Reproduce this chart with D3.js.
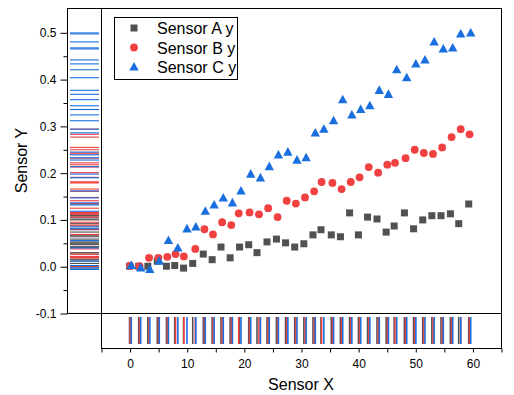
<!DOCTYPE html>
<html><head><meta charset="utf-8">
<script src="https://cdn.jsdelivr.net/npm/d3@7"></script>
<style>body{margin:0;background:#fff}svg{display:block;font-family:"Liberation Sans",Arial,sans-serif}</style>
</head><body><svg id="c" width="514" height="395"></svg>
<script>
// ---- data ----
const seriesNames = ["Sensor A y", "Sensor B y", "Sensor C y"];
const xA = [0, 1.6, 3.2, 4.85, 6.45, 7.9, 9.45, 11.05, 12.9, 14.45, 16.0, 17.6, 19.25, 20.85, 22.3, 24.05, 25.7, 27.3, 28.9, 30.5, 32.1, 33.5, 35.3, 36.9, 38.5, 40.05, 41.65, 43.3, 44.9, 46.3, 48.1, 49.7, 51.3, 52.9, 54.5, 56.15, 57.6, 59.35];
const yA = [0.0, 0.0, 0.0, 0.011, 0.0, 0.0015, -0.004, 0.006, 0.026, 0.014, 0.041, 0.018, 0.041, 0.046, 0.029, 0.052, 0.058, 0.050, 0.041, 0.048, 0.067, 0.078, 0.067, 0.063, 0.114, 0.067, 0.105, 0.101, 0.073, 0.086, 0.114, 0.080, 0.099, 0.108, 0.108, 0.112, 0.091, 0.133];
const xB = [0.1, 1.75, 3.4, 5.05, 6.6, 8.05, 9.5, 11.5, 13.1, 14.6, 16.2, 17.8, 19.1, 21.0, 22.65, 24.25, 25.9, 27.5, 29.1, 30.7, 32.3, 33.6, 35.5, 37.1, 38.7, 40.25, 41.85, 43.5, 45.1, 46.45, 48.3, 49.9, 51.5, 53.1, 54.7, 56.35, 57.95, 59.5];
const yB = [0.001, 0.0, 0.018, 0.018, 0.020, 0.026, 0.021, 0.037, 0.079, 0.068, 0.094, 0.088, 0.113, 0.115, 0.111, 0.124, 0.105, 0.140, 0.134, 0.147, 0.160, 0.180, 0.178, 0.165, 0.180, 0.190, 0.212, 0.200, 0.217, 0.221, 0.231, 0.249, 0.242, 0.240, 0.254, 0.276, 0.293, 0.282];
const xC = [0.3, 1.95, 3.55, 5.2, 6.8, 8.45, 10.05, 11.6, 13.25, 14.8, 16.4, 18.0, 19.5, 21.2, 22.9, 24.45, 26.05, 27.7, 29.3, 30.9, 32.5, 34.0, 35.7, 37.3, 38.9, 40.45, 42.05, 43.7, 45.3, 46.75, 48.5, 50.1, 51.7, 53.3, 54.9, 56.55, 57.95, 59.7];
const yC = [0.0015, -0.0035, -0.007, 0.011, 0.055, 0.039, 0.080, 0.084, 0.1175, 0.131, 0.146, 0.1355, 0.161, 0.197, 0.189, 0.213, 0.238, 0.244, 0.227, 0.232, 0.285, 0.293, 0.311, 0.356, 0.3235, 0.335, 0.343, 0.376, 0.3675, 0.420, 0.403, 0.4325, 0.441, 0.4795, 0.4645, 0.4667, 0.4966, 0.4987];
const xTicks = [0, 10, 20, 30, 40, 50, 60];
const xMinor = [-5, 5, 15, 25, 35, 45, 55, 65];
const yTicks = [-0.1, 0.0, 0.1, 0.2, 0.3, 0.4, 0.5];
const yMinor = [-0.05, 0.05, 0.15, 0.25, 0.35, 0.45];
const colors = ["#515151", "#F14040", "#1A6FDF"];
const shapes = ["square", "circle", "triangle"];

const series = seriesNames.map((n, i) => ({
  name: n, color: colors[i], shape: shapes[i],
  pts: [xA, xB, xC][i].map((xv, j) => ({x: xv, y: [yA, yB, yC][i][j]}))
}));

// ---- layout ----
const L = 101, R = 501, T = 8, B = 313, rugLeft = 67, axisBottom = 348;
const svg = d3.select("#c");
const x = d3.scaleLinear().domain([-5, 65]).range([L, R]);
const y = d3.scaleLinear().domain([-0.1, 0.552]).range([B, T]);

function marker(g, shape, color) {
  if (shape === "square") g.append("rect").attr("x", -3.5).attr("y", -3.5).attr("width", 7).attr("height", 7).attr("fill", color);
  else if (shape === "circle") g.append("circle").attr("r", 3.9).attr("fill", color);
  else g.append("path").attr("d", "M0,-5L4.7,3.6L-4.7,3.6Z").attr("fill", color);
}

// rugs
const rugL = svg.append("g");
series.forEach(s => {
  rugL.selectAll(null).data(s.pts).enter().append("line")
    .attr("x1", 70).attr("x2", 99)
    .attr("y1", d => y(d.y)).attr("y2", d => y(d.y))
    .attr("stroke", s.color).attr("stroke-width", 1.1);
});
const rugB = svg.append("g");
series.forEach(s => {
  rugB.selectAll(null).data(s.pts).enter().append("line")
    .attr("x1", d => x(d.x)).attr("x2", d => x(d.x))
    .attr("y1", 317).attr("y2", 344)
    .attr("stroke", s.color).attr("stroke-width", 1.6);
});

// points
series.forEach(s => {
  svg.append("g").selectAll(null).data(s.pts).enter().append("g")
    .attr("transform", d => `translate(${x(d.x)},${y(d.y)})`)
    .each(function () { marker(d3.select(this), s.shape, s.color); });
});

// frames
const fr = svg.append("g").attr("fill", "none").attr("stroke", "#000").attr("stroke-width", 1);
fr.append("rect").attr("x", L + 0.5).attr("y", T + 0.5).attr("width", R - L).attr("height", B - T);
fr.append("rect").attr("x", rugLeft + 0.5).attr("y", T + 0.5).attr("width", L - rugLeft).attr("height", B - T);
fr.append("rect").attr("x", L + 0.5).attr("y", B + 0.5).attr("width", R - L).attr("height", axisBottom - B);

// left axis
const ya = svg.append("g").attr("transform", `translate(${rugLeft + 0.5},0.5)`)
  .call(d3.axisLeft(y).tickValues(yTicks).tickSize(7).tickPadding(4).tickFormat(d => d.toFixed(1)));
ya.select(".domain").remove();
const yb = svg.append("g").attr("transform", `translate(${rugLeft + 0.5},0.5)`)
  .call(d3.axisLeft(y).tickValues(yMinor).tickSize(4).tickFormat(""));
yb.select(".domain").remove();
// bottom axis
const xa = svg.append("g").attr("transform", `translate(0.5,${axisBottom + 0.5})`)
  .call(d3.axisBottom(x).tickValues(xTicks).tickSize(4).tickPadding(7).tickFormat(d3.format("d")));
xa.select(".domain").remove();
const xb = svg.append("g").attr("transform", `translate(0.5,${axisBottom + 0.5})`)
  .call(d3.axisBottom(x).tickValues(xMinor).tickSize(4).tickFormat(""));
xb.select(".domain").remove();
svg.selectAll(".tick text").attr("font-size", 12).attr("fill", "#000").attr("font-family", '"Liberation Sans",Arial,sans-serif');
svg.selectAll(".tick line").attr("stroke", "#000");

// titles
svg.append("text").attr("x", (L + R) / 2).attr("y", 390).attr("text-anchor", "middle")
  .attr("font-size", 16).text("Sensor X");
svg.append("text").attr("transform", `translate(27,${(T + B) / 2}) rotate(-90)`).attr("text-anchor", "middle")
  .attr("font-size", 16).text("Sensor Y");

// legend
const lg = svg.append("g");
lg.append("rect").attr("x", 114.5).attr("y", 17.5).attr("width", 123).attr("height", 62)
  .attr("fill", "#fff").attr("stroke", "#000");
series.forEach((s, i) => {
  const cy = 28 + i * 19.5;
  const g = lg.append("g").attr("transform", `translate(134,${cy})`);
  marker(g, s.shape, s.color);
  lg.append("text").attr("x", 157).attr("y", cy + 6).attr("font-size", 16).text(s.name);
});
</script></body></html>
